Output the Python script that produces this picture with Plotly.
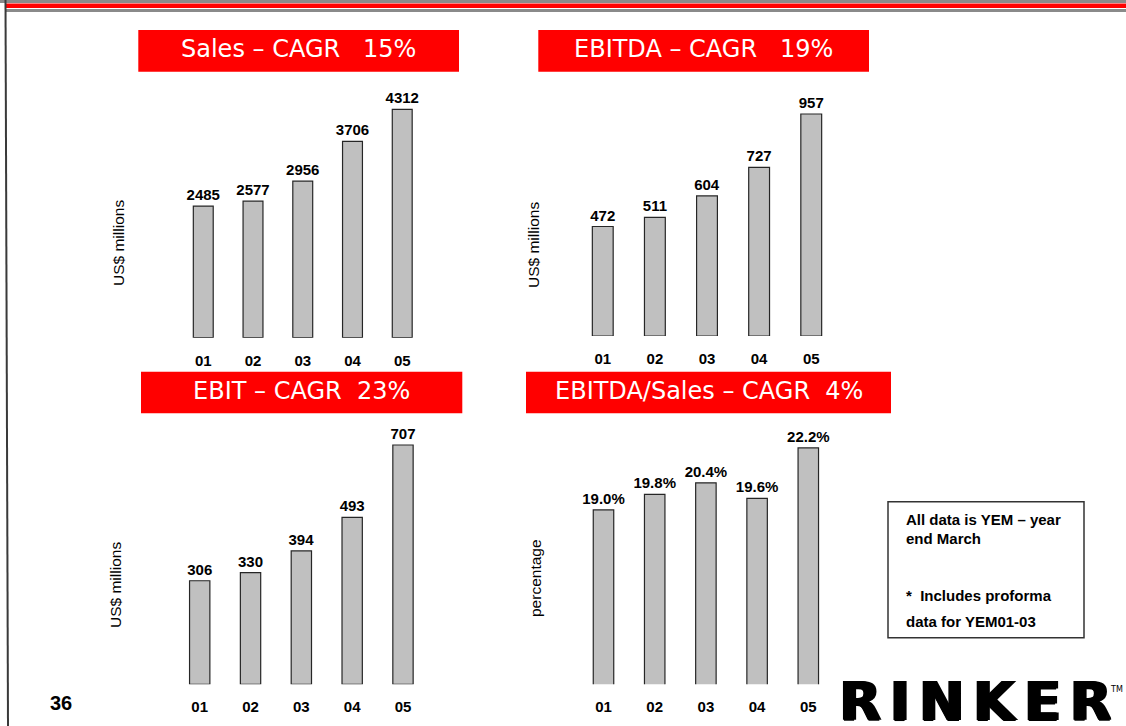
import plotly.graph_objects as go

# ---- data -------------------------------------------------------------
YEARS = ["01", "02", "03", "04", "05"]
SALES = [2485, 2577, 2956, 3706, 4312]
EBITDA = [472, 511, 604, 727, 957]
EBIT = [306, 330, 394, 493, 707]
EBITDA_MARGIN = [19.0, 19.8, 20.4, 19.6, 22.2]

PANEL_TITLES = [
    "Sales \u2013 CAGR\u00a0\u00a0\u00a015%",
    "EBITDA \u2013 CAGR\u00a0\u00a0\u00a019%",
    "EBIT \u2013 CAGR\u00a0\u00a023%",
    "EBITDA/Sales \u2013 CAGR\u00a0\u00a04%",
]
AXIS_TITLES = ["US$ millions", "US$ millions", "US$ millions", "percentage"]
NOTE_LINES = ["All data is YEM \u2013 year", "end March",
              "*\u00a0\u00a0Includes proforma", "data for YEM01-03"]
PAGE_NUMBER = "36"
LOGO = "RINKER"

# ---- page geometry (pixels) -------------------------------------------
W, H = 1126, 726


def fx(x):
    return x / W


def fy(y):
    return 1 - y / H


# each panel: x-extent, baseline, top of plot area, axis floor, pixels per unit,
# title box, axis-title position
PANELS = [
    dict(values=SALES, fmt="{:d}", left=178.4, right=427.1, base=337.7, top=88,
         floor=0, ppu=228.4 / 4312, box=(138.3, 30, 459, 71.7), ytitle=(118, 243)),
    dict(values=EBITDA, fmt="{:d}", left=576.7, right=837.3, base=336.0, top=88,
         floor=0, ppu=222.0 / 957, box=(538.3, 30, 869, 71.7), ytitle=(533, 245)),
    dict(values=EBIT, fmt="{:d}", left=174.3, right=428.4, base=684.3, top=425,
         floor=0, ppu=239.3 / 707, box=(141, 371.7, 462.3, 413.3), ytitle=(115, 585)),
    dict(values=EBITDA_MARGIN, fmt="{:.1f}%", left=577.9, right=833.9, base=684.3, top=425,
         floor=10, ppu=19.375, box=(526, 371.7, 891, 413.3), ytitle=(535, 578)),
]

BAR_FILL = "#c0c0c0"
BAR_EDGE = "#262626"
LABEL_FONT = dict(family="Liberation Sans, Arial, sans-serif", size=15, color="#000", weight=700)

fig = go.Figure()
shapes = []
annotations = []

for i, p in enumerate(PANELS):
    n = "" if i == 0 else str(i + 1)
    fig.add_trace(go.Bar(
        x=YEARS, y=p["values"],
        text=[p["fmt"].format(v) for v in p["values"]],
        textposition="outside", constraintext="none", cliponaxis=False,
        textfont=LABEL_FONT,
        marker=dict(color=BAR_FILL, line=dict(color=BAR_EDGE, width=1.2)),
        width=0.4, xaxis="x" + n, yaxis="y" + n, showlegend=False,
        hoverinfo="skip",
    ))
    ymax = p["floor"] + (p["base"] - p["top"]) / p["ppu"]
    fig.update_layout(**{
        "xaxis" + n: dict(
            domain=[fx(p["left"]), fx(p["right"])], anchor="y" + n,
            type="category", range=[-0.5, 4.5], showgrid=False, zeroline=False,
            showline=False, ticks="outside", ticklen=9, tickcolor="rgba(0,0,0,0)",
            tickfont=LABEL_FONT, fixedrange=True,
        ),
        "yaxis" + n: dict(
            domain=[fy(p["base"]), fy(p["top"])], anchor="x" + n,
            range=[p["floor"], ymax], showgrid=False, zeroline=False,
            showline=False, showticklabels=False, fixedrange=True,
        ),
    })

    # red heading band with white caption
    x0, y0, x1, y1 = p["box"]
    shapes.append(dict(type="rect", xref="paper", yref="paper",
                       x0=fx(x0), x1=fx(x1), y0=fy(y1), y1=fy(y0),
                       fillcolor="#ff0000", line=dict(width=0), layer="below"))
    annotations.append(dict(text=PANEL_TITLES[i], xref="paper", yref="paper",
                            x=fx((x0 + x1) / 2), y=fy((y0 + y1) / 2 - 1.5),
                            xanchor="center", yanchor="middle", showarrow=False,
                            font=dict(family="DejaVu Sans, Verdana, sans-serif",
                                      size=24, color="#ffffff")))

    # vertical axis caption
    tx, ty = p["ytitle"]
    annotations.append(dict(text=AXIS_TITLES[i], xref="paper", yref="paper",
                            x=fx(tx), y=fy(ty), xanchor="center", yanchor="middle",
                            textangle=-90, showarrow=False,
                            font=dict(family="Liberation Sans, Arial, sans-serif",
                                      size=15.5, color="#000")))

# ---- page furniture ----------------------------------------------------
# top rule: grey / red / grey
shapes += [
    dict(type="rect", xref="paper", yref="paper", x0=0, x1=1, y0=fy(3), y1=fy(0),
         fillcolor="#8a8a8a", line=dict(width=0)),
    dict(type="rect", xref="paper", yref="paper", x0=fx(6), x1=1, y0=fy(8), y1=fy(3.5),
         fillcolor="#ff0000", line=dict(width=0)),
    dict(type="rect", xref="paper", yref="paper", x0=fx(6), x1=1, y0=fy(12), y1=fy(9),
         fillcolor="#8a8a8a", line=dict(width=0)),
    # left margin rule
    dict(type="line", xref="paper", yref="paper", x0=fx(5.5), x1=fx(8), y0=1, y1=0,
         line=dict(color="#3a3a3a", width=2)),
    # note box
    dict(type="rect", xref="paper", yref="paper", x0=fx(888), x1=fx(1084),
         y0=fy(637.7), y1=fy(501.7), line=dict(color="#333333", width=1.5),
         fillcolor="rgba(0,0,0,0)"),
]

NOTE_FONT = dict(family="Liberation Sans, Arial, sans-serif", size=15, color="#000", weight=700)
for line, yc in zip(NOTE_LINES, [519.5, 538, 595.5, 621]):
    annotations.append(dict(text=line, xref="paper", yref="paper", x=fx(904), y=fy(yc),
                            xanchor="left", yanchor="middle", showarrow=False,
                            font=NOTE_FONT))

annotations.append(dict(text=PAGE_NUMBER, xref="paper", yref="paper", x=fx(61), y=fy(703),
                        xanchor="center", yanchor="middle", showarrow=False,
                        font=dict(family="Liberation Sans, Arial, sans-serif", size=20,
                                  color="#000", weight=700)))

# company mark (spacing applied between letters only, none after the last)
annotations.append(dict(text='<span style="letter-spacing:9px">' + LOGO[:-1] + "</span>"
                        + LOGO[-1],
                        xref="paper", yref="paper", x=fx(837), y=fy(701),
                        xanchor="left", yanchor="middle", showarrow=False,
                        height=46, valign="middle",
                        font=dict(family="DejaVu Sans, sans-serif", size=54, color="#000",
                                  weight=700,
                                  shadow="2px 0 0 #000, -1px 0 0 #000, 0 1px 0 #000")))
annotations.append(dict(text="TM", xref="paper", yref="paper", x=fx(1125), y=fy(689),
                        xanchor="right", yanchor="middle", showarrow=False,
                        font=dict(family="DejaVu Sans, sans-serif", size=8, color="#000")))

fig.update_layout(
    width=W, height=H, margin=dict(l=0, r=0, t=0, b=0),
    paper_bgcolor="#ffffff", plot_bgcolor="rgba(0,0,0,0)",
    shapes=shapes, annotations=annotations, bargap=0.6,
)

fig.write_html("out.html", config={"displayModeBar": False})
